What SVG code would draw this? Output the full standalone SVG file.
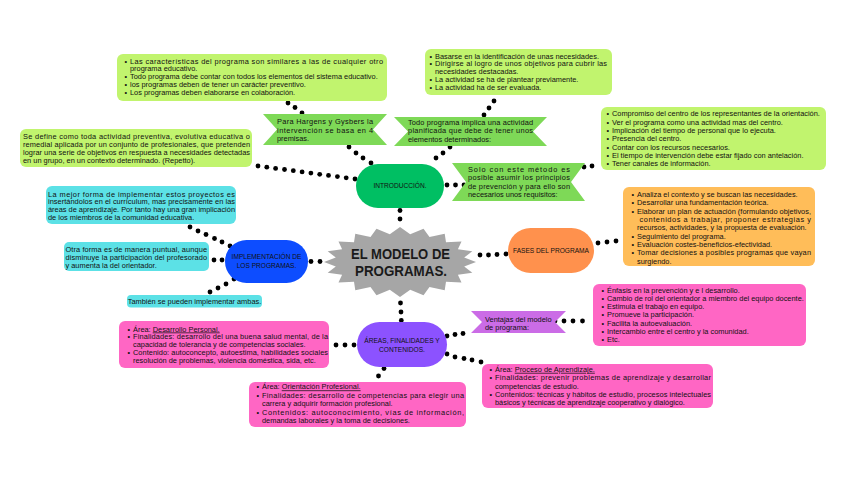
<svg xmlns="http://www.w3.org/2000/svg" width="848" height="477" viewBox="0 0 848 477">
<style>
text{font-family:"Liberation Sans",Arial,sans-serif;fill:#111}
.t{font-size:7.4px}
.p{font-size:6.6px;text-anchor:middle}
.h{font-size:14px;font-weight:bold;text-anchor:middle;fill:#1a1a1a}
.lime{fill:#c1f46e}
.rib{fill:#7ed957}
.cyan{fill:#5ce1e6}
.pink{fill:#ff66c4}
.org{fill:#ffbd59}
.u{text-decoration:underline}
#connectors circle{fill:#000}
</style>
<rect width="848" height="477" fill="#fff"/>

<g id="connectors">
<circle cx="288" cy="103" r="2.4"/><circle cx="295" cy="107.5" r="2.4"/><circle cx="302" cy="113" r="2.4"/>
<circle cx="349" cy="147" r="2.4"/><circle cx="356" cy="153" r="2.4"/><circle cx="363" cy="158" r="2.4"/><circle cx="371" cy="163" r="2.4"/>
<circle cx="258" cy="166" r="2.4"/><circle cx="266.8" cy="167.2" r="2.4"/><circle cx="275.6" cy="168.4" r="2.4"/><circle cx="284.5" cy="169.5" r="2.4"/><circle cx="293.3" cy="170.7" r="2.4"/><circle cx="302.1" cy="171.9" r="2.4"/><circle cx="310.9" cy="173.1" r="2.4"/><circle cx="319.7" cy="174.3" r="2.4"/><circle cx="328.5" cy="175.4" r="2.4"/><circle cx="337.4" cy="176.6" r="2.4"/><circle cx="346.2" cy="177.8" r="2.4"/><circle cx="355" cy="179" r="2.4"/>
<circle cx="494" cy="101" r="2.4"/><circle cx="489" cy="108" r="2.4"/><circle cx="484" cy="115" r="2.4"/>
<circle cx="450" cy="147" r="2.4"/><circle cx="443" cy="153" r="2.4"/><circle cx="436" cy="158" r="2.4"/>
<circle cx="447" cy="185" r="2.4"/><circle cx="455.5" cy="185" r="2.4"/><circle cx="464" cy="185" r="2.4"/>
<circle cx="584" cy="167" r="2.4"/><circle cx="592" cy="166" r="2.4"/>
<circle cx="400" cy="210.5" r="2.4"/><circle cx="400" cy="219" r="2.4"/>
<circle cx="311" cy="261.5" r="2.4"/><circle cx="320" cy="261.5" r="2.4"/>
<circle cx="480" cy="255" r="2.4"/><circle cx="488.5" cy="255" r="2.4"/><circle cx="497" cy="254.5" r="2.4"/><circle cx="506" cy="254" r="2.4"/>
<circle cx="598" cy="243" r="2.4"/><circle cx="607" cy="242" r="2.4"/><circle cx="616" cy="241" r="2.4"/>
<circle cx="400.5" cy="303" r="2.4"/><circle cx="401" cy="312" r="2.4"/><circle cx="401.3" cy="320.5" r="2.4"/>
<circle cx="190" cy="227" r="2.4"/><circle cx="198" cy="231" r="2.4"/><circle cx="206" cy="234.5" r="2.4"/><circle cx="214.5" cy="238.5" r="2.4"/><circle cx="222" cy="242" r="2.4"/><circle cx="230" cy="246" r="2.4"/>
<circle cx="214" cy="260" r="2.4"/><circle cx="222" cy="260" r="2.4"/>
<circle cx="234" cy="279" r="2.4"/><circle cx="226" cy="284" r="2.4"/><circle cx="218" cy="288" r="2.4"/><circle cx="210" cy="292" r="2.4"/>
<circle cx="336" cy="345" r="2.4"/><circle cx="345" cy="345" r="2.4"/><circle cx="354" cy="345" r="2.4"/>
<circle cx="447" cy="336" r="2.4"/><circle cx="455" cy="334.5" r="2.4"/><circle cx="463" cy="333.5" r="2.4"/>
<circle cx="555" cy="321" r="2.4"/><circle cx="564" cy="321" r="2.4"/><circle cx="573" cy="321" r="2.4"/><circle cx="582.5" cy="321" r="2.4"/>
<circle cx="447" cy="354" r="2.4"/><circle cx="455" cy="357" r="2.4"/><circle cx="464" cy="358.5" r="2.4"/><circle cx="472" cy="360" r="2.4"/><circle cx="481" cy="362" r="2.4"/>
<circle cx="384" cy="368.5" r="2.4"/><circle cx="378.5" cy="376" r="2.4"/>
</g>

<g id="premisas-caracteristicas">
<rect class="lime" x="117" y="54" width="270" height="47" rx="6"/>
<text class="t"><tspan x="124.5" y="63.6">•</tspan><tspan x="130" y="63.6" textLength="253" lengthAdjust="spacing">Las características del programa son similares a las de cualquier otro</tspan><tspan x="130" y="71.4">programa educativo.</tspan><tspan x="124.5" y="79.3">•</tspan><tspan x="130" y="79.3">Todo programa debe contar con todos los elementos del sistema educativo.</tspan><tspan x="124.5" y="87.1">•</tspan><tspan x="130" y="87.1">los programas deben de tener un carácter preventivo.</tspan><tspan x="124.5" y="94.9">•</tspan><tspan x="130" y="94.9">Los programas deben elaborarse en colaboración.</tspan></text>
</g>

<g id="elementos-lista">
<rect class="lime" x="425" y="49" width="187" height="46" rx="6"/>
<text class="t"><tspan x="429.5" y="58.6">•</tspan><tspan x="435" y="58.6">Basarse en la identificación de unas necesidades.</tspan><tspan x="429.5" y="66.4">•</tspan><tspan x="435" y="66.4" textLength="172" lengthAdjust="spacing">Dirigirse al logro de unos objetivos para cubrir las</tspan><tspan x="435" y="74.2">necesidades destacadas.</tspan><tspan x="429.5" y="82">•</tspan><tspan x="435" y="82">La actividad se ha de plantear previamente.</tspan><tspan x="429.5" y="89.8">•</tspan><tspan x="435" y="89.8">La actividad ha de ser evaluada.</tspan></text>
</g>

<g id="requisitos-lista">
<rect class="lime" x="601" y="107" width="225" height="63" rx="6"/>
<text class="t"><tspan x="606.5" y="116.2">•</tspan><tspan x="612" y="116.2">Compromiso del centro de los representantes de la orientación.</tspan><tspan x="606.5" y="124.5">•</tspan><tspan x="612" y="124.5">Ver el programa como una actividad mas del centro.</tspan><tspan x="606.5" y="132.8">•</tspan><tspan x="612" y="132.8">Implicación del tiempo de personal que lo ejecuta.</tspan><tspan x="606.5" y="141.2">•</tspan><tspan x="612" y="141.2">Presencia del centro.</tspan><tspan x="606.5" y="149.5">•</tspan><tspan x="612" y="149.5">Contar con los recursos necesarios.</tspan><tspan x="606.5" y="157.8">•</tspan><tspan x="612" y="157.8">El tiempo de intervención debe estar fijado con antelación.</tspan><tspan x="606.5" y="166.2">•</tspan><tspan x="612" y="166.2">Tener canales de información.</tspan></text>
</g>

<g id="definicion">
<rect class="lime" x="20" y="129" width="232" height="38" rx="6"/>
<text class="t"><tspan x="23" y="139" textLength="227" lengthAdjust="spacing">Se define como toda actividad preventiva, evolutiva educativa o</tspan><tspan x="23" y="147" textLength="227" lengthAdjust="spacing">remedial aplicada por un conjunto de profesionales, que pretenden</tspan><tspan x="23" y="155" textLength="227" lengthAdjust="spacing">lograr una serie de objetivos en respuesta a necesidades detectadas</tspan><tspan x="23" y="163">en un grupo, en un contexto determinado. (Repetto).</tspan></text>
</g>

<g id="hargens">
<polygon class="rib" points="263,114 387,114 373,129.5 387,145 263,145 277,129.5"/>
<text class="t"><tspan x="277" y="124.2" textLength="96" lengthAdjust="spacing">Para Hargens y Gysbers la</tspan><tspan x="277" y="132.5" textLength="96" lengthAdjust="spacing">intervención se basa en 4</tspan><tspan x="277" y="140.8">premisas.</tspan></text>
</g>

<g id="todo-programa">
<polygon class="rib" points="394,117 547,117 533,131.5 547,146 394,146 408,131.5"/>
<text class="t"><tspan x="408" y="124.8" textLength="125" lengthAdjust="spacing">Todo programa implica una actividad</tspan><tspan x="408" y="133.3" textLength="125" lengthAdjust="spacing">planificada que debe de tener unos</tspan><tspan x="408" y="141.5">elementos determinados:</tspan></text>
</g>

<g id="solo-metodo">
<polygon class="rib" points="452,163 585,163 571,182 585,201 452,201 466,182"/>
<text class="t"><tspan x="468" y="171.8" textLength="102" lengthAdjust="spacing">Solo con este método es</tspan><tspan x="468" y="180.2" textLength="102" lengthAdjust="spacing">posible asumir los principios</tspan><tspan x="468" y="188.8" textLength="102" lengthAdjust="spacing">de prevención y para ello son</tspan><tspan x="468" y="196.8">necesarios unos requisitos:</tspan></text>
</g>

<g id="introduccion">
<rect x="356" y="164" width="88" height="44" rx="22" fill="#00bf63"/>
<text class="p" x="400" y="188.4">INTRODUCCIÓN.</text>
</g>

<g id="modelo">
<polygon fill="#a6a6a6" points="476,262 464.2,266.4 472.3,272.8 457.9,274.7 461.5,282.6 446,281.8 444.7,290.3 429.5,287 423.5,295.3 410.2,289.7 400,297 389.8,289.7 376.5,295.3 370.5,287 355.3,290.3 354,281.8 338.5,282.6 342.1,274.7 327.7,272.8 335.8,266.4 324,262 335.8,257.6 327.7,251.2 342.1,249.3 338.5,241.4 354,242.2 355.3,233.7 370.5,237 376.5,228.7 389.8,234.3 400,227 410.2,234.3 423.5,228.7 429.5,237 444.7,233.7 446,242.2 461.5,241.4 457.9,249.3 472.3,251.2 464.2,257.6"/>
<text class="h" x="400.5" y="258.5" textLength="99" lengthAdjust="spacingAndGlyphs">EL MODELO DE</text>
<text class="h" x="401" y="276.3" textLength="92" lengthAdjust="spacingAndGlyphs">PROGRAMAS.</text>
</g>

<g id="implementacion">
<rect x="225" y="240" width="83" height="43" rx="21.5" fill="#0d4dff"/>
<text class="p"><tspan x="266.5" y="259.4">IMPLEMENTACIÓN DE</tspan><tspan x="266.5" y="268.2">LOS PROGRAMAS.</tspan></text>
</g>

<g id="impl-curriculum">
<rect class="cyan" x="46" y="186" width="190" height="38" rx="6"/>
<text class="t"><tspan x="48" y="196.5" textLength="187" lengthAdjust="spacing">La mejor forma de implementar estos proyectos es</tspan><tspan x="48" y="204.3" textLength="187" lengthAdjust="spacing">insertándolos en el currículum, mas precisamente en las</tspan><tspan x="48" y="212.1" textLength="187" lengthAdjust="spacing">áreas de aprendizaje. Por tanto hay una gran implicación</tspan><tspan x="48" y="220">de los miembros de la comunidad educativa.</tspan></text>
</g>

<g id="impl-puntual">
<rect class="cyan" x="64" y="242" width="145" height="29" rx="5"/>
<text class="t"><tspan x="65.5" y="251.8" textLength="141.5" lengthAdjust="spacing">Otra forma es de manera puntual, aunque</tspan><tspan x="65.5" y="260.1" textLength="141.5" lengthAdjust="spacing">disminuye la participación del profesorado</tspan><tspan x="65.5" y="268.2">y aumenta la del orientador.</tspan></text>
</g>

<g id="impl-ambas">
<rect class="cyan" x="127" y="295" width="135" height="12.5" rx="4"/>
<text class="t" x="194.5" y="303.8" text-anchor="middle">También se pueden implementar ambas.</text>
</g>

<g id="fases">
<rect x="508" y="228" width="86" height="45" rx="22.5" fill="#ff914d"/>
<text class="p" x="551" y="252.8">FASES DEL PROGRAMA</text>
</g>

<g id="fases-lista">
<rect class="org" x="623" y="187" width="192" height="79" rx="6"/>
<text class="t"><tspan x="631.5" y="196.8">•</tspan><tspan x="637" y="196.8">Analiza el contexto y se buscan las necesidades.</tspan><tspan x="631.5" y="205.2">•</tspan><tspan x="637" y="205.2">Desarrollar una fundamentación teórica.</tspan><tspan x="631.5" y="213.5">•</tspan><tspan x="637" y="213.5" textLength="174" lengthAdjust="spacing">Elaborar un plan de actuación (formulando objetivos,</tspan><tspan x="639.5" y="221.8" textLength="171.5" lengthAdjust="spacing">contenidos a trabajar, proponer estrategias y</tspan><tspan x="637" y="229.9">recursos, actividades, y la propuesta de evaluación.</tspan><tspan x="631.5" y="238.5">•</tspan><tspan x="637" y="238.5">Seguimiento del programa.</tspan><tspan x="631.5" y="246.6">•</tspan><tspan x="637" y="246.6">Evaluación costes-beneficios-efectividad.</tspan><tspan x="631.5" y="255.2">•</tspan><tspan x="637" y="255.2" textLength="174" lengthAdjust="spacing">Tomar decisiones a posibles programas que vayan</tspan><tspan x="637" y="263.5">surgiendo.</tspan></text>
</g>

<g id="areas">
<rect x="357" y="322" width="90" height="45" rx="22.5" fill="#8c52ff"/>
<text class="p"><tspan x="402" y="342.6">ÁREAS, FINALIDADES Y</tspan><tspan x="402" y="351.6">CONTENIDOS.</tspan></text>
</g>

<g id="ventajas">
<polygon fill="#cb6ce6" points="471,311 566,311 555,322 566,333 471,333 482,322"/>
<text class="t"><tspan x="485" y="321.8">Ventajas del modelo</tspan><tspan x="485" y="329.8">de programa:</tspan></text>
</g>

<g id="ventajas-lista">
<rect class="pink" x="593" y="284" width="213" height="62" rx="6"/>
<text class="t"><tspan x="601.5" y="293.2">•</tspan><tspan x="607" y="293.2">Énfasis en la prevención y e l desarrollo.</tspan><tspan x="601.5" y="301.2">•</tspan><tspan x="607" y="301.2">Cambio de rol del orientador a miembro del equipo docente.</tspan><tspan x="601.5" y="309.2">•</tspan><tspan x="607" y="309.2">Estimula el trabajo en equipo.</tspan><tspan x="601.5" y="317.2">•</tspan><tspan x="607" y="317.2">Promueve la participación.</tspan><tspan x="601.5" y="325.5">•</tspan><tspan x="607" y="325.5">Facilita la autoevaluación.</tspan><tspan x="601.5" y="333.8">•</tspan><tspan x="607" y="333.8">Intercambio entre el centro y la comunidad.</tspan><tspan x="601.5" y="342.2">•</tspan><tspan x="607" y="342.2">Etc.</tspan></text>
</g>

<g id="area-personal">
<rect class="pink" x="119" y="321" width="210" height="47" rx="6"/>
<text class="t"><tspan x="127.5" y="331.5">•</tspan><tspan x="133" y="331.5">Área: <tspan class="u">Desarrollo Personal.</tspan></tspan><tspan x="127.5" y="339.3">•</tspan><tspan x="133" y="339.3" textLength="195" lengthAdjust="spacing">Finalidades: desarrollo del una buena salud mental, de la</tspan><tspan x="133" y="347.1">capacidad de tolerancia y de competencias sociales.</tspan><tspan x="127.5" y="355">•</tspan><tspan x="133" y="355" textLength="195" lengthAdjust="spacing">Contenido: autoconcepto, autoestima, habilidades sociales</tspan><tspan x="133" y="363">resolución de problemas, violencia doméstica, sida, etc.</tspan></text>
</g>

<g id="area-profesional">
<rect class="pink" x="249" y="382" width="217" height="45" rx="6"/>
<text class="t"><tspan x="256.5" y="389.4">•</tspan><tspan x="262" y="389.4">Área: <tspan class="u">Orientación Profesional.</tspan></tspan><tspan x="256.5" y="397.6">•</tspan><tspan x="262" y="397.6" textLength="202" lengthAdjust="spacing">Finalidades: desarrollo de competencias para elegir una</tspan><tspan x="262" y="406.4">carrera y adquirir formación profesional.</tspan><tspan x="256.5" y="415">•</tspan><tspan x="262" y="415" textLength="202" lengthAdjust="spacing">Contenidos: autoconocimiento, vías de información,</tspan><tspan x="262" y="423.4">demandas laborales y la toma de decisiones.</tspan></text>
</g>

<g id="area-aprendizaje">
<rect class="pink" x="482" y="364" width="231" height="44" rx="6"/>
<text class="t"><tspan x="489.5" y="371.8">•</tspan><tspan x="495" y="371.8">Área: <tspan class="u">Proceso de Aprendizaje.</tspan></tspan><tspan x="489.5" y="379.8">•</tspan><tspan x="495" y="379.8" textLength="216" lengthAdjust="spacing">Finalidades: prevenir problemas de aprendizaje y desarrollar</tspan><tspan x="495" y="388.5">competencias de estudio.</tspan><tspan x="489.5" y="396.8">•</tspan><tspan x="495" y="396.8" textLength="216" lengthAdjust="spacing">Contenidos: técnicas y hábitos de estudio, procesos intelectuales</tspan><tspan x="495" y="405">básicos y técnicas de aprendizaje cooperativo y dialógico.</tspan></text>
</g>
</svg>
